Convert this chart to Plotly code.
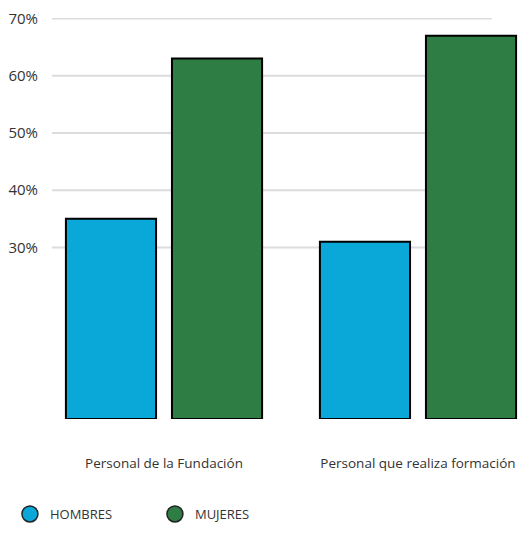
import plotly.graph_objects as go

categories = ["Personal de la Fundación", "Personal que realiza formación"]
hombres = [35, 31]
mujeres = [63, 67]
tick_values = [30, 40, 50, 60, 70]
tick_labels = ["30%", "40%", "50%", "60%", "70%"]

blue = "#0aa8d8"
green = "#2e7d45"
text_color = "#333333"

fig = go.Figure()
fig.add_trace(go.Bar(x=categories, y=hombres, name="HOMBRES", marker=dict(color=blue, line=dict(color="black", width=2)), showlegend=False))
fig.add_trace(go.Bar(x=categories, y=mujeres, name="MUJERES", marker=dict(color=green, line=dict(color="black", width=2)), showlegend=False))
# legend entries with circular symbols
fig.add_trace(go.Scatter(x=[None], y=[None], mode="markers", name="HOMBRES",
                         marker=dict(size=16, color=blue, line=dict(color="#222", width=1.5))))
fig.add_trace(go.Scatter(x=[None], y=[None], mode="markers", name="MUJERES",
                         marker=dict(size=16, color=green, line=dict(color="#222", width=1.5))))

# gridlines limited in width
for v in tick_values:
    fig.add_shape(type="line", xref="paper", yref="y", x0=0, x1=0.92, y0=v, y1=v,
                  line=dict(color="#dcdcdc", width=2), layer="below")

fig.update_layout(
    width=522, height=542,
    margin=dict(l=44, r=0, t=10, b=131),
    paper_bgcolor="white", plot_bgcolor="white",
    barmode="group", bargap=0.165, bargroupgap=0.15,
    font=dict(family="Open Sans", size=13, color=text_color),
    showlegend=True,
    legend=dict(orientation="h", x=-0.088, xanchor="left", y=-0.237, yanchor="middle",
                font=dict(size=13, color=text_color), itemsizing="trace",
                entrywidth=100),
    xaxis=dict(range=[-0.441, 1.441], showgrid=False, zeroline=False, showline=False,
               ticks="", ticklabelstandoff=34, tickfont=dict(size=13.5, color=text_color)),
    yaxis=dict(range=[0, 70.1], tickvals=tick_values, ticktext=tick_labels, showgrid=False,
               zeroline=False, showline=False, ticks="", ticklabelstandoff=13,
               ticklabeloverflow="allow",
               tickfont=dict(size=15, color=text_color)),
)

fig.write_html("out.html")
